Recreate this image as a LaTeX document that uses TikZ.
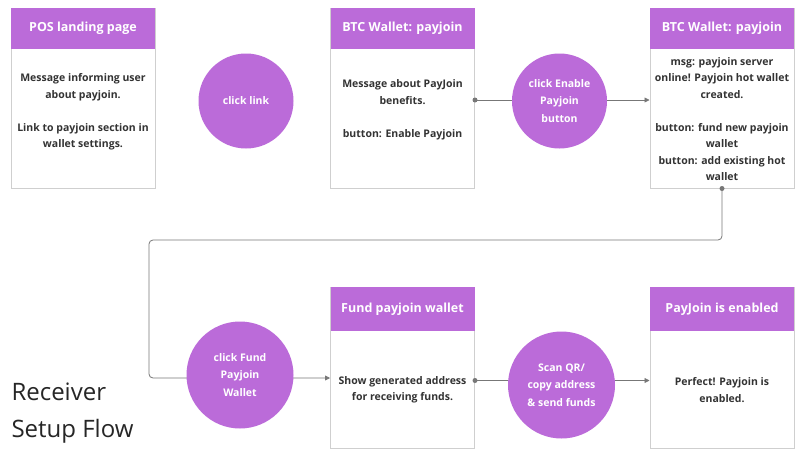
\documentclass[tikz,border=0pt]{standalone}
\usepackage{fontspec}
\setmainfont{Open Sans}
\usetikzlibrary{arrows.meta}
\definecolor{flowpurple}{HTML}{BB6BD9}
\definecolor{flowline}{HTML}{777777}
\definecolor{flowborder}{HTML}{CFCFCF}
\definecolor{flowtext}{HTML}{333333}
\tikzset{
  cardhead/.style={fill=flowpurple, minimum width=144pt, minimum height=41pt, inner sep=0pt,
    text=white, font=\bfseries\fontsize{12.5}{15}\selectfont},
  card/.style={draw=flowborder, line width=1pt, fill=white, minimum width=144pt, inner sep=0pt},
  cardtext/.style={text=flowtext, align=center, font=\bfseries\fontsize{10.5}{16.5}\selectfont},
  action/.style={circle, fill=flowpurple, inner sep=0pt, text=white, align=center,
    font=\bfseries\fontsize{10.5}{17.5}\selectfont},
  flowlink/.style={draw=flowline, line width=0.8pt, rounded corners=4pt},
  linkdot/.style={circle, fill=flowline, inner sep=0pt, minimum size=5pt}
}
\begin{document}
\begin{tikzpicture}[x=1pt,y=-1pt]
  \useasboundingbox[fill=white] (0,0) rectangle (800,458);

  \node[card, minimum height=180pt] (pos) at (83,98) {};
  \node[cardhead] (poshead) at (83,28.5) {POS landing page};
  \node[cardtext] (postxt) at (83,112) {Message informing user\\about payjoin.\\[16.5pt]Link to payjoin section in\\wallet settings.};

  \node[card, minimum height=180pt] (wallet) at (402.5,98) {};
  \node[cardhead] (wallethead) at (402.5,28.5) {BTC Wallet: payjoin};
  \node[cardtext] (wallettxt) at (402.5,110) {Message about PayJoin\\benefits.\\[16.5pt]button: Enable Payjoin};

  \node[card, minimum height=180pt] (created) at (722,98) {};
  \node[cardhead] (createdhead) at (722,28.5) {BTC Wallet: payjoin};
  \node[cardtext] (createdtxt) at (722,119) {msg: payjoin server\\online! Payjoin hot wallet\\created.\\[16.5pt]button: fund new payjoin\\wallet\\button: add existing hot\\wallet};

  \node[card, minimum height=161pt] (fund) at (402.5,367.5) {};
  \node[cardhead, minimum height=44pt] (fundhead) at (402.5,309) {Fund payjoin wallet};
  \node[cardtext] (fundtxt) at (402.5,390) {Show generated address\\for receiving funds.};

  \node[card, minimum height=161pt] (enabled) at (722,367.5) {};
  \node[cardhead, minimum height=44pt] (enabledhead) at (722,309) {PayJoin is enabled};
  \node[cardtext] (enabledtxt) at (722,390) {Perfect! Payjoin is\\enabled.};

  \draw[flowlink, -{Triangle[length=5pt,width=5pt]}] ([yshift=-2pt]wallet.east) -- ([yshift=-2pt]created.west);
  \node[linkdot] (walletdot) at ([yshift=-2pt]wallet.east) {};
  \draw[flowlink, -{Triangle[length=5pt,width=5pt]}] (created.south) -- (722,240) -- (149,240) -- (149,378) -- ([yshift=-10.5pt]fund.west);
  \node[linkdot] (createddot) at (created.south) {};
  \draw[flowlink, -{Triangle[length=5pt,width=5pt]}] ([yshift=-13pt]fund.east) -- ([yshift=-13pt]enabled.west);
  \node[linkdot] (funddot) at ([yshift=-13pt]fund.east) {};

  \node[action, minimum size=95pt] (clicklink) at (246,101) {click link};
  \node[action, minimum size=95pt] (clickenable) at (559.5,101) {click Enable\\Payjoin\\button};
  \node[action, minimum size=107pt] (clickfund) at (240,375) {click Fund\\Payjoin\\Wallet};
  \node[action, minimum size=107pt] (scanqr) at (561.5,385) {Scan QR/\\copy address\\\& send funds};

  \node[anchor=west, align=left, text=black!85, font=\fontsize{24}{37}\selectfont] (title) at (8,413) {Receiver\\Setup Flow};
\end{tikzpicture}
\end{document}
